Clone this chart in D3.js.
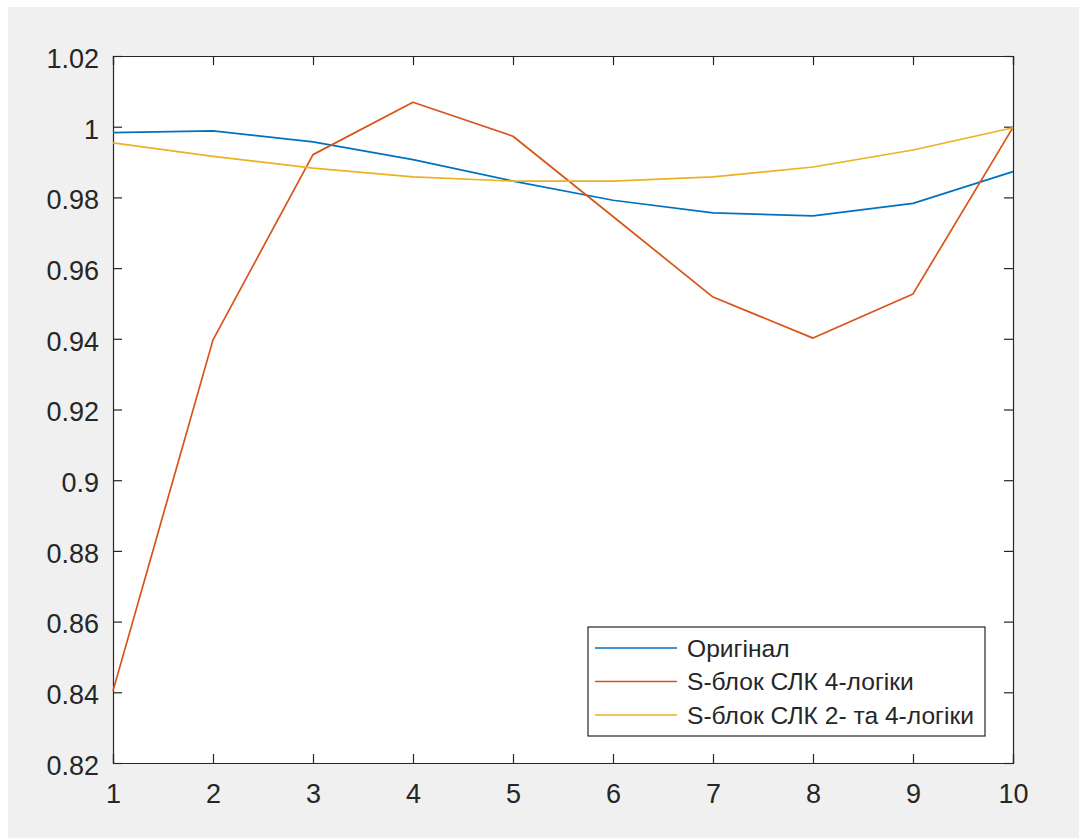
<!DOCTYPE html>
<html>
<head>
<meta charset="utf-8">
<script src="https://cdn.jsdelivr.net/npm/d3@7"></script>
<style>
  body { margin: 0; background: #fff; }
  svg { display: block; font-family: "Liberation Sans", Arial, sans-serif; }
</style>
</head>
<body>
<svg width="1079" height="838"></svg>
<script>
// data
let xs = [1, 2, 3, 4, 5, 6, 7, 8, 9, 10];
let original = [0.9983, 0.9988, 0.9957, 0.9907, 0.9846, 0.9792, 0.9756, 0.9748, 0.9783, 0.9873];
let sbox4 = [0.8404, 0.9397, 0.9921, 1.0069, 0.9973, 0.9746, 0.9518, 0.9402, 0.9527, 0.9998];
let sbox24 = [0.9954, 0.9916, 0.9883, 0.9858, 0.9846, 0.9846, 0.9858, 0.9886, 0.9934, 0.9997];
let seriesNames = ["Оригінал", "S-блок СЛК 4-логіки", "S-блок СЛК 2- та 4-логіки"];
let seriesColors = ["#0072bd", "#d95319", "#edb120"];
let yTicks = [0.82, 0.84, 0.86, 0.88, 0.9, 0.92, 0.94, 0.96, 0.98, 1, 1.02];

function drawChart() {
    let svg = d3.select("svg");
    let axisColor = "#262626";

    svg.append("rect")
        .attr("x", 8).attr("y", 7)
        .attr("width", 1071).attr("height", 831)
        .attr("fill", "#f0f0f0");

    let left = 113, right = 1013, top = 56, bottom = 763;

    let x = d3.scaleLinear().domain([1, 10]).range([left, right]);
    let y = d3.scaleLinear().domain([0.82, 1.02]).range([bottom, top]);

    svg.append("rect")
        .attr("x", left).attr("y", top)
        .attr("width", right - left).attr("height", bottom - top)
        .attr("fill", "#fff");

    let tickLen = 9;

    // bottom axis
    let xAxis = svg.append("g")
        .attr("transform", "translate(0," + bottom + ")")
        .call(d3.axisBottom(x).tickValues(xs).tickSize(-tickLen).tickPadding(21).tickFormat(d3.format("d")));
    // top axis (ticks only)
    let xAxisTop = svg.append("g")
        .attr("transform", "translate(0," + top + ")")
        .call(d3.axisTop(x).tickValues(xs).tickSize(-tickLen).tickFormat(""));
    // left axis
    let yAxis = svg.append("g")
        .attr("transform", "translate(" + left + ",0)")
        .call(d3.axisLeft(y).tickValues(yTicks).tickSize(-tickLen).tickPadding(14).tickFormat(d => d3.format("")(+d.toFixed(2))));
    // right axis (ticks only)
    let yAxisRight = svg.append("g")
        .attr("transform", "translate(" + right + ",0)")
        .call(d3.axisRight(y).tickValues(yTicks).tickSize(-tickLen).tickFormat(""));

    [xAxis, xAxisTop, yAxis, yAxisRight].forEach(function (g) {
        g.select(".domain").attr("stroke", axisColor).attr("stroke-width", 1.2);
        g.selectAll(".tick line").attr("stroke", axisColor).attr("stroke-width", 1.2);
        g.selectAll(".tick text")
            .attr("fill", axisColor)
            .style("font-size", "27px")
            .style("font-family", "'Liberation Sans', Arial, sans-serif");
    });
    xAxis.selectAll(".tick text").attr("dy", "0.71em");
    yAxis.selectAll(".tick text").attr("dy", "0.42em");

    let line = d3.line()
        .x(function (d, i) { return x(xs[i]); })
        .y(function (d) { return y(d); });

    let allSeries = [original, sbox4, sbox24];
    svg.append("g").selectAll("path")
        .data(allSeries)
        .enter()
        .append("path")
        .attr("d", line)
        .attr("fill", "none")
        .attr("stroke", function (d, i) { return seriesColors[i]; })
        .attr("stroke-width", 1.7)
        .attr("stroke-linejoin", "round");

    // legend
    let legend = svg.append("g");
    legend.append("rect")
        .attr("x", 588).attr("y", 627)
        .attr("width", 397).attr("height", 109)
        .attr("fill", "#fff")
        .attr("stroke", axisColor)
        .attr("stroke-width", 1.2);

    let rows = legend.selectAll("g.row")
        .data(seriesNames)
        .enter()
        .append("g")
        .attr("class", "row")
        .attr("transform", function (d, i) { return "translate(0," + (648 + i * 33.5) + ")"; });

    rows.append("line")
        .attr("x1", 595).attr("x2", 677)
        .attr("y1", 0).attr("y2", 0)
        .attr("stroke", function (d, i) { return seriesColors[i]; })
        .attr("stroke-width", 1.7);

    rows.append("text")
        .attr("x", 687)
        .attr("dy", "0.36em")
        .attr("fill", axisColor)
        .style("font-size", "24.6px")
        .text(function (d) { return d; });
}

drawChart();
</script>
</body>
</html>
